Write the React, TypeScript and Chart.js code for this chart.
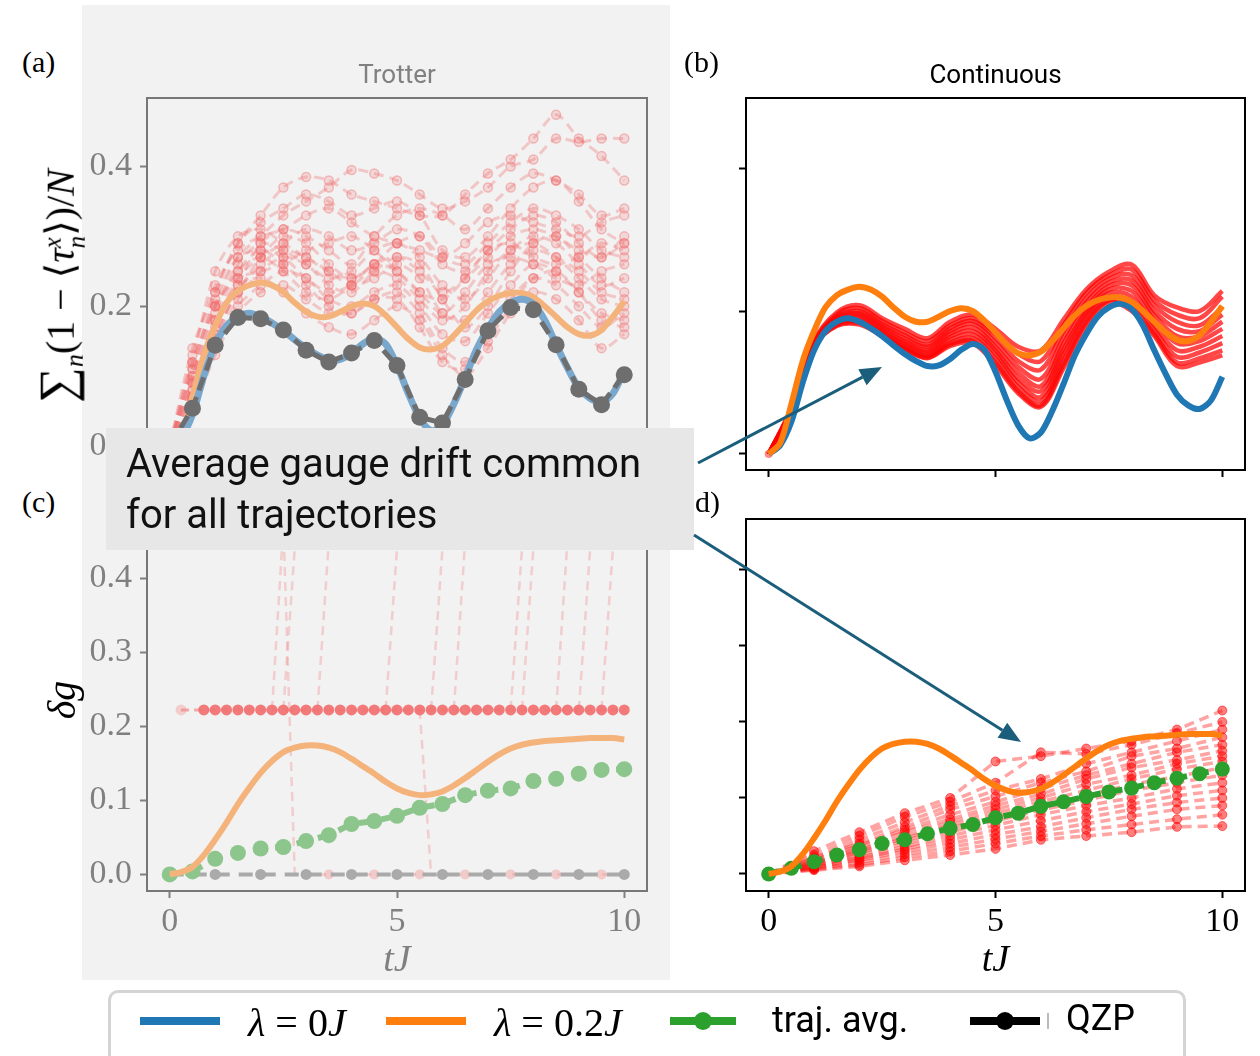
import React, { useEffect, useRef } from 'react';
import { Chart, registerables } from 'chart.js';

Chart.register(...registerables);

const SERIF = "'Liberation Serif', 'DejaVu Serif', serif";
const SANS = "Roboto, 'Noto Sans', sans-serif";

// ---------------- data ----------------
const X_TICKS = [0, 5, 10];
const Y_TICKS_AB = [0, 0.2, 0.4];
const Y_TICKS_CD = [0, 0.1, 0.2, 0.3, 0.4];

const T_QUARTER = [0, 0.25, 0.5, 0.75, 1, 1.25, 1.5, 1.75, 2, 2.25, 2.5, 2.75, 3, 3.25, 3.5, 3.75, 4, 4.25, 4.5, 4.75, 5, 5.25, 5.5, 5.75, 6, 6.25, 6.5, 6.75, 7, 7.25, 7.5, 7.75, 8, 8.25, 8.5, 8.75, 9, 9.25, 9.5, 9.75, 10];
const T_HALF = [0, 0.5, 1, 1.5, 2, 2.5, 3, 3.5, 4, 4.5, 5, 5.5, 6, 6.5, 7, 7.5, 8, 8.5, 9, 9.5, 10];
const T_UNIT = [0, 1, 2, 3, 4, 5, 6, 7, 8, 9, 10];

// lambda = 0J (panels a, b)
const BLUE_AB = [0, 0.012, 0.045, 0.1, 0.145, 0.172, 0.185, 0.19, 0.185, 0.176, 0.165, 0.152, 0.14, 0.13, 0.123, 0.124, 0.133, 0.146, 0.154, 0.146, 0.115, 0.075, 0.04, 0.022, 0.03, 0.06, 0.098, 0.138, 0.168, 0.192, 0.205, 0.21, 0.203, 0.18, 0.145, 0.112, 0.083, 0.068, 0.063, 0.075, 0.108];
// lambda = 0.2J (panels a, b)
const ORANGE_AB = [0, 0.015, 0.07, 0.13, 0.172, 0.205, 0.222, 0.23, 0.234, 0.23, 0.22, 0.205, 0.192, 0.185, 0.185, 0.192, 0.2, 0.204, 0.2, 0.187, 0.17, 0.153, 0.141, 0.138, 0.143, 0.158, 0.176, 0.194, 0.207, 0.215, 0.219, 0.219, 0.213, 0.2, 0.185, 0.17, 0.16, 0.158, 0.166, 0.185, 0.207];
// lambda = 0.2J (panels c, d)
const ORANGE_CD = [0, 0.003, 0.01, 0.026, 0.047, 0.07, 0.095, 0.117, 0.137, 0.153, 0.165, 0.171, 0.174, 0.174, 0.171, 0.165, 0.156, 0.146, 0.136, 0.125, 0.116, 0.11, 0.107, 0.108, 0.112, 0.12, 0.13, 0.141, 0.152, 0.162, 0.17, 0.175, 0.178, 0.18, 0.181, 0.182, 0.183, 0.184, 0.184, 0.184, 0.182];
// QZP (panel a)
const QZP_A = [0, 0.054, 0.144, 0.184, 0.182, 0.166, 0.137, 0.12, 0.133, 0.151, 0.115, 0.041, 0.033, 0.095, 0.165, 0.198, 0.195, 0.145, 0.081, 0.059, 0.102];
// QZP (panel c)
const QZP_C = [0, 0, 0, 0, 0, 0, 0, 0, 0, 0, 0];
// trajectory averages
const GREEN_C = [0, 0.004, 0.021, 0.029, 0.035, 0.037, 0.045, 0.053, 0.068, 0.072, 0.079, 0.09, 0.095, 0.107, 0.113, 0.116, 0.126, 0.129, 0.136, 0.141, 0.142];
const GREEN_D = [0, 0.0075, 0.016, 0.025, 0.032, 0.04, 0.045, 0.053, 0.06, 0.065, 0.074, 0.08, 0.089, 0.095, 0.102, 0.108, 0.113, 0.12, 0.126, 0.132, 0.138];

// Trotter trajectories (panel a), t = 0..10 step 0.5
const TRAJ_A = [
  [0, 0.14, 0.22, 0.29, 0.33, 0.37, 0.385, 0.38, 0.36, 0.35, 0.34, 0.33, 0.33, 0.36, 0.39, 0.41, 0.44, 0.474, 0.44, 0.415, 0.38],
  [0, 0.10, 0.20, 0.27, 0.30, 0.33, 0.35, 0.37, 0.395, 0.39, 0.38, 0.36, 0.34, 0.35, 0.37, 0.40, 0.41, 0.44, 0.435, 0.44, 0.44],
  [0, 0.07, 0.15, 0.23, 0.29, 0.31, 0.30, 0.28, 0.26, 0.30, 0.33, 0.34, 0.33, 0.31, 0.34, 0.37, 0.39, 0.38, 0.36, 0.33, 0.34],
  [0, 0.12, 0.25, 0.30, 0.31, 0.29, 0.27, 0.25, 0.24, 0.26, 0.27, 0.25, 0.22, 0.24, 0.27, 0.30, 0.31, 0.30, 0.28, 0.27, 0.29],
  [0, 0.09, 0.19, 0.26, 0.29, 0.28, 0.26, 0.24, 0.25, 0.28, 0.29, 0.27, 0.23, 0.21, 0.24, 0.28, 0.30, 0.29, 0.26, 0.23, 0.24],
  [0, 0.06, 0.16, 0.22, 0.26, 0.28, 0.27, 0.25, 0.23, 0.24, 0.26, 0.24, 0.19, 0.18, 0.22, 0.26, 0.28, 0.27, 0.25, 0.22, 0.21],
  [0, 0.11, 0.21, 0.27, 0.28, 0.27, 0.24, 0.22, 0.23, 0.25, 0.24, 0.21, 0.18, 0.20, 0.25, 0.28, 0.29, 0.27, 0.24, 0.21, 0.20],
  [0, 0.08, 0.17, 0.24, 0.27, 0.29, 0.31, 0.30, 0.28, 0.29, 0.31, 0.30, 0.26, 0.25, 0.28, 0.31, 0.33, 0.32, 0.29, 0.27, 0.30],
  [0, 0.05, 0.14, 0.20, 0.23, 0.25, 0.24, 0.21, 0.20, 0.22, 0.23, 0.20, 0.16, 0.15, 0.19, 0.23, 0.26, 0.25, 0.22, 0.19, 0.18],
  [0, 0.13, 0.23, 0.28, 0.30, 0.31, 0.33, 0.34, 0.32, 0.30, 0.29, 0.28, 0.27, 0.29, 0.32, 0.33, 0.32, 0.31, 0.30, 0.32, 0.33],
  [0, 0.07, 0.18, 0.25, 0.28, 0.26, 0.23, 0.20, 0.19, 0.21, 0.22, 0.19, 0.14, 0.12, 0.16, 0.21, 0.24, 0.23, 0.20, 0.17, 0.19],
  [0, 0.10, 0.20, 0.24, 0.25, 0.26, 0.28, 0.29, 0.30, 0.28, 0.25, 0.22, 0.21, 0.24, 0.28, 0.29, 0.27, 0.26, 0.27, 0.29, 0.28],
  [0, 0.06, 0.15, 0.21, 0.25, 0.27, 0.26, 0.23, 0.22, 0.25, 0.27, 0.26, 0.21, 0.17, 0.20, 0.25, 0.29, 0.30, 0.27, 0.24, 0.22],
  [0, 0.09, 0.18, 0.23, 0.24, 0.22, 0.19, 0.17, 0.16, 0.18, 0.20, 0.18, 0.13, 0.10, 0.14, 0.19, 0.22, 0.21, 0.18, 0.14, 0.16],
  [0, 0.11, 0.22, 0.29, 0.32, 0.34, 0.36, 0.35, 0.33, 0.34, 0.35, 0.33, 0.28, 0.27, 0.30, 0.34, 0.37, 0.38, 0.35, 0.31, 0.29],
  [0, 0.08, 0.16, 0.22, 0.27, 0.30, 0.29, 0.26, 0.24, 0.26, 0.29, 0.30, 0.27, 0.26, 0.29, 0.32, 0.34, 0.33, 0.31, 0.28, 0.27],
  [0, 0.12, 0.20, 0.25, 0.27, 0.25, 0.22, 0.21, 0.23, 0.26, 0.25, 0.22, 0.19, 0.22, 0.26, 0.27, 0.26, 0.24, 0.23, 0.25, 0.26],
  [0, 0.05, 0.13, 0.19, 0.22, 0.23, 0.21, 0.19, 0.19, 0.21, 0.21, 0.17, 0.12, 0.11, 0.15, 0.20, 0.24, 0.25, 0.22, 0.18, 0.17],
];

// Continuous trajectories (panel b), t = 0..10 step 0.5
const TRAJ_B = [
  [0, 0.065, 0.158, 0.198, 0.208, 0.19, 0.175, 0.162, 0.185, 0.195, 0.175, 0.15, 0.145, 0.188, 0.23, 0.255, 0.265, 0.222, 0.205, 0.2, 0.228],
  [0, 0.063, 0.156, 0.195, 0.204, 0.186, 0.17, 0.158, 0.18, 0.19, 0.168, 0.14, 0.13, 0.18, 0.225, 0.25, 0.258, 0.215, 0.195, 0.19, 0.22],
  [0, 0.062, 0.155, 0.192, 0.2, 0.182, 0.166, 0.153, 0.176, 0.186, 0.162, 0.13, 0.118, 0.172, 0.218, 0.245, 0.25, 0.208, 0.185, 0.18, 0.205],
  [0, 0.061, 0.154, 0.19, 0.197, 0.179, 0.162, 0.15, 0.172, 0.182, 0.156, 0.122, 0.105, 0.163, 0.212, 0.24, 0.243, 0.2, 0.175, 0.172, 0.195],
  [0, 0.06, 0.153, 0.188, 0.194, 0.176, 0.158, 0.146, 0.168, 0.177, 0.15, 0.114, 0.095, 0.155, 0.205, 0.235, 0.236, 0.194, 0.165, 0.165, 0.185],
  [0, 0.06, 0.152, 0.186, 0.191, 0.173, 0.155, 0.143, 0.164, 0.172, 0.145, 0.106, 0.088, 0.147, 0.2, 0.23, 0.228, 0.187, 0.155, 0.158, 0.175],
  [0, 0.06, 0.151, 0.184, 0.188, 0.17, 0.152, 0.14, 0.16, 0.167, 0.14, 0.1, 0.08, 0.14, 0.195, 0.225, 0.22, 0.18, 0.145, 0.15, 0.165],
  [0, 0.059, 0.15, 0.182, 0.185, 0.168, 0.149, 0.137, 0.156, 0.162, 0.134, 0.094, 0.074, 0.132, 0.19, 0.22, 0.212, 0.174, 0.136, 0.142, 0.155],
  [0, 0.058, 0.15, 0.18, 0.183, 0.166, 0.147, 0.135, 0.153, 0.158, 0.128, 0.088, 0.068, 0.125, 0.184, 0.215, 0.205, 0.168, 0.128, 0.134, 0.145],
  [0, 0.058, 0.15, 0.179, 0.181, 0.165, 0.146, 0.134, 0.151, 0.155, 0.124, 0.085, 0.066, 0.12, 0.18, 0.212, 0.2, 0.165, 0.123, 0.128, 0.138],
];

// Continuous gauge drift trajectories (panel d), t = 0..10 step 1
const TRAJ_D = [
  [0, 0.03, 0.055, 0.08, 0.1, 0.148, 0.155, 0.165, 0.175, 0.19, 0.215],
  [0, 0.025, 0.05, 0.075, 0.095, 0.12, 0.16, 0.158, 0.17, 0.185, 0.2],
  [0, 0.02, 0.045, 0.068, 0.09, 0.11, 0.125, 0.145, 0.16, 0.175, 0.19],
  [0, 0.022, 0.04, 0.062, 0.085, 0.102, 0.12, 0.135, 0.155, 0.165, 0.18],
  [0, 0.018, 0.038, 0.058, 0.078, 0.095, 0.112, 0.13, 0.145, 0.16, 0.17],
  [0, 0.015, 0.035, 0.055, 0.072, 0.09, 0.105, 0.125, 0.14, 0.15, 0.162],
  [0, 0.016, 0.032, 0.05, 0.068, 0.085, 0.1, 0.118, 0.13, 0.145, 0.155],
  [0, 0.012, 0.03, 0.047, 0.064, 0.08, 0.095, 0.11, 0.125, 0.138, 0.148],
  [0, 0.014, 0.028, 0.044, 0.06, 0.075, 0.09, 0.103, 0.118, 0.128, 0.14],
  [0, 0.01, 0.025, 0.04, 0.055, 0.07, 0.084, 0.097, 0.11, 0.12, 0.13],
  [0, 0.012, 0.022, 0.036, 0.05, 0.064, 0.078, 0.09, 0.1, 0.112, 0.12],
  [0, 0.008, 0.02, 0.033, 0.045, 0.058, 0.07, 0.082, 0.092, 0.103, 0.11],
  [0, 0.009, 0.018, 0.03, 0.04, 0.052, 0.062, 0.074, 0.085, 0.094, 0.1],
  [0, 0.007, 0.015, 0.026, 0.035, 0.046, 0.056, 0.066, 0.076, 0.085, 0.09],
  [0, 0.006, 0.012, 0.022, 0.03, 0.04, 0.05, 0.058, 0.065, 0.072, 0.078],
  [0, 0.005, 0.01, 0.018, 0.025, 0.033, 0.045, 0.05, 0.055, 0.062, 0.063],
];

// Trotter gauge drift trajectories (panel c)
const C_FLAT_T = [0.25, 0.75, 1, 1.25, 1.5, 1.75, 2, 2.25, 2.5, 2.75, 3, 3.25, 3.5, 3.75, 4, 4.25, 4.5, 4.75, 5, 5.25, 5.5, 5.75, 6, 6.25, 6.5, 6.75, 7, 7.25, 7.5, 7.75, 8, 8.25, 8.5, 8.75, 9, 9.25, 9.5, 9.75, 10];
const C_FLAT_V = [0.222, 0.222, 0.222, 0.222, 0.222, 0.222, 0.222, 0.222, 0.222, 0.222, 0.222, 0.222, 0.222, 0.222, 0.222, 0.222, 0.222, 0.222, 0.222, 0.222, 0.222, 0.222, 0.222, 0.222, 0.222, 0.222, 0.222, 0.222, 0.222, 0.222, 0.222, 0.222, 0.222, 0.222, 0.222, 0.222, 0.222, 0.222, 0.222];
const C_JUMP_START_T = [2.5, 3.25, 4.75, 5.75, 6.25, 7.5, 7.75, 8.5, 9, 9.5];
const C_JUMP_START_V = [0.222, 0.222, 0.222, 0.222, 0.222, 0.222, 0.222, 0.222, 0.222, 0.222];
const C_JUMP_END_T = [2.75, 3.5, 5, 6, 6.5, 7.75, 8, 8.75, 9.25, 9.75];
const C_JUMP_END_V = [0.44, 0.45, 0.44, 0.44, 0.45, 0.44, 0.44, 0.45, 0.44, 0.44];
const C_SPIKE_T = [2.25, 2.5, 2.75, 3, 3.5, 4, 4.5, 5, 5.5, 6, 6.5, 7, 7.5, 8, 8.5, 9, 9.5, 10];
const C_SPIKE_V = [0.222, 0.47, 0, 0, 0, 0, 0, 0, 0, 0, 0, 0, 0, 0, 0, 0, 0, 0];
const C_DROP_T = [5.5, 5.75];
const C_DROP_V = [0.222, 0];
const C_ZERO_T = [3.5, 4.5, 5.5, 6.5, 7.5, 8.5, 9.5];
const C_ZERO_V = [0, 0, 0, 0, 0, 0, 0];

// ---------------- helpers ----------------
const pts = (ts: number[], vs: number[]) => ts.map((t, i) => ({ x: t, y: vs[i] }));

const framePlugin = {
  id: 'frame',
  afterDraw(chart: any, _args: any, opts: any) {
    const { ctx, chartArea } = chart;
    ctx.save();
    ctx.strokeStyle = opts.color || '#000';
    ctx.lineWidth = opts.width || 2;
    ctx.strokeRect(chartArea.left, chartArea.top, chartArea.right - chartArea.left, chartArea.bottom - chartArea.top);
    ctx.restore();
  },
};

function xAxis(color: string, labels: boolean, height: number, withTitle: boolean) {
  return {
    type: 'linear',
    min: -0.5,
    max: 10.5,
    afterBuildTicks: (s: any) => { s.ticks = X_TICKS.map((v) => ({ value: v })); },
    afterFit: (s: any) => { s.height = height; },
    grid: { display: true, drawOnChartArea: false, drawTicks: true, tickLength: 7, tickWidth: 2, tickColor: color, color },
    border: { display: false },
    ticks: { display: labels, color, font: { family: SERIF, size: 34, lineHeight: 1.2 }, padding: 4, maxRotation: 0, autoSkip: false },
    title: withTitle
      ? { display: true, text: 'tJ', color, font: { family: SERIF, size: 38, style: 'italic', lineHeight: 1 }, padding: { top: 0, bottom: 10 } }
      : { display: false },
  };
}

function yAxis(color: string, labels: boolean, width: number, min: number, max: number, ticks: number[]) {
  return {
    type: 'linear',
    min,
    max,
    afterBuildTicks: (s: any) => { s.ticks = ticks.map((v) => ({ value: v })); },
    afterFit: (s: any) => { s.width = width; },
    grid: { display: true, drawOnChartArea: false, drawTicks: true, tickLength: 7, tickWidth: 2, tickColor: color, color },
    border: { display: false },
    ticks: { display: labels, color, font: { family: SERIF, size: 34 }, padding: 8, callback: (v: any) => Number(v).toFixed(1) },
  };
}

function baseOptions(opts: any) {
  return {
    responsive: false,
    animation: false,
    events: [],
    layout: { padding: opts.padding },
    plugins: {
      legend: { display: false },
      tooltip: { enabled: false },
      title: opts.title
        ? { display: true, fullSize: false, text: opts.title, color: opts.titleColor, font: { family: SANS, size: 26, weight: 'normal', lineHeight: 1 }, padding: { top: 13, bottom: 9 } }
        : { display: false },
      frame: { color: opts.frameColor, width: 2 },
    },
    scales: { x: opts.x, y: opts.y },
  };
}

const LEFT_GRAY = '#808080';

function buildA() {
  const datasets: any[] = [
    { data: pts(T_HALF, QZP_A), borderColor: '#6e6e6e', borderWidth: 5, borderDash: [14, 7], pointRadius: 8.5, pointBackgroundColor: '#6e6e6e', pointBorderWidth: 0, tension: 0, order: 0 },
    { data: pts(T_QUARTER, BLUE_AB), borderColor: '#7aa8cd', borderWidth: 7, pointRadius: 0, tension: 0.3, order: 1 },
    { data: pts(T_QUARTER, ORANGE_AB), borderColor: '#f5b37c', borderWidth: 6, pointRadius: 0, tension: 0.3, order: 2 },
    ...TRAJ_A.map((v) => ({
      data: pts(T_HALF, v), borderColor: 'rgba(240,110,110,0.33)', borderWidth: 3, borderDash: [10, 6], pointRadius: 4.5,
      pointBackgroundColor: 'rgba(240,110,110,0.2)', pointBorderColor: 'rgba(240,110,110,0.42)', pointBorderWidth: 1.5, tension: 0.3, order: 3,
    })),
  ];
  return {
    type: 'line',
    data: { datasets },
    options: baseOptions({
      padding: { left: 0, right: 13, top: 0, bottom: 0 }, title: 'Trotter', titleColor: LEFT_GRAY, frameColor: '#777777',
      x: xAxis(LEFT_GRAY, false, 20, false), y: yAxis(LEFT_GRAY, true, 67, -0.0224, 0.498, Y_TICKS_AB),
    }),
    plugins: [framePlugin],
  };
}

function buildB() {
  const datasets: any[] = [
    { data: pts(T_QUARTER, ORANGE_AB), borderColor: '#ff7f0e', borderWidth: 6, pointRadius: 0, tension: 0.3, order: 0 },
    { data: pts(T_QUARTER, BLUE_AB), borderColor: '#1f77b4', borderWidth: 6, pointRadius: 0, tension: 0.3, order: 1 },
    ...TRAJ_B.map((v) => ({ data: pts(T_HALF, v), borderColor: 'rgba(255,0,0,0.72)', borderWidth: 4.5, pointRadius: 0, tension: 0.35, order: 2 })),
    { data: pts([0], [0]), borderColor: 'rgba(255,0,0,0.6)', pointRadius: 4, pointBackgroundColor: 'rgba(255,60,60,0.6)', pointBorderWidth: 0, order: 3 },
  ];
  return {
    type: 'line',
    data: { datasets },
    options: baseOptions({
      padding: { left: 0, right: 10, top: 0, bottom: 0 }, title: 'Continuous', titleColor: '#000', frameColor: '#000',
      x: xAxis('#000', false, 20, false), y: yAxis('#000', false, 66, -0.0224, 0.498, Y_TICKS_AB),
    }),
    plugins: [framePlugin],
  };
}

function buildC() {
  const pink = 'rgba(240,128,128,0.32)';
  const datasets: any[] = [
    { data: pts(T_QUARTER, ORANGE_CD), borderColor: '#f5b37c', borderWidth: 6, pointRadius: 0, tension: 0.3, order: 0 },
    { data: pts(T_HALF, GREEN_C), borderColor: '#8cc68c', borderWidth: 6, borderDash: [12, 10], pointRadius: 8, pointBackgroundColor: '#8cc68c', pointBorderWidth: 0, tension: 0, order: 1 },
    { data: pts(T_UNIT, QZP_C), borderColor: '#aaaaaa', borderWidth: 4, borderDash: [14, 9], pointRadius: 5.5, pointBackgroundColor: '#aaaaaa', pointBorderWidth: 0, tension: 0, order: 2 },
    { data: pts(C_ZERO_T, C_ZERO_V), showLine: false, pointRadius: 5, pointBackgroundColor: 'rgba(240,128,128,0.35)', pointBorderWidth: 0, order: 3 },
    {
      data: pts(C_FLAT_T, C_FLAT_V), borderColor: 'rgba(242,120,120,0.6)', borderWidth: 3, borderDash: [8, 5], pointRadius: 5.5,
      pointBackgroundColor: C_FLAT_T.map((_, i) => (i === 0 ? 'rgba(242,120,120,0.3)' : 'rgba(242,115,115,0.95)')), pointBorderWidth: 0, tension: 0, order: 4,
    },
    ...C_JUMP_START_T.map((t, i) => ({
      data: pts([t, C_JUMP_END_T[i]], [C_JUMP_START_V[i], C_JUMP_END_V[i]]), borderColor: pink, borderWidth: 2.5, borderDash: [9, 6], pointRadius: 0, tension: 0, order: 5,
    })),
    { data: pts(C_SPIKE_T, C_SPIKE_V), borderColor: pink, borderWidth: 2.5, borderDash: [9, 6], pointRadius: 0, tension: 0, order: 5 },
    { data: pts(C_DROP_T, C_DROP_V), borderColor: pink, borderWidth: 2.5, borderDash: [9, 6], pointRadius: 0, tension: 0, order: 5 },
  ];
  return {
    type: 'line',
    data: { datasets },
    options: baseOptions({
      padding: { left: 0, right: 13, top: 19, bottom: 0 }, title: null, frameColor: '#777777',
      x: xAxis(LEFT_GRAY, true, 99, true), y: yAxis(LEFT_GRAY, true, 67, -0.0224, 0.467, Y_TICKS_CD),
    }),
    plugins: [framePlugin],
  };
}

function buildD() {
  const datasets: any[] = [
    { data: pts(T_QUARTER, ORANGE_CD), borderColor: '#ff7f0e', borderWidth: 6, pointRadius: 0, tension: 0.3, order: 0 },
    { data: pts(T_HALF, GREEN_D), borderColor: '#2ca02c', borderWidth: 6, borderDash: [12, 10], pointRadius: 7.5, pointBackgroundColor: '#2ca02c', pointBorderWidth: 0, tension: 0, order: 1 },
    ...TRAJ_D.map((v) => ({
      data: pts(T_UNIT, v), borderColor: 'rgba(255,0,0,0.36)', borderWidth: 3.5, borderDash: [10, 6], pointRadius: 4.5,
      pointBackgroundColor: 'rgba(255,0,0,0.5)', pointBorderColor: 'rgba(255,0,0,0.55)', pointBorderWidth: 1, tension: 0, order: 2,
    })),
  ];
  return {
    type: 'line',
    data: { datasets },
    options: baseOptions({
      padding: { left: 0, right: 10, top: 19, bottom: 0 }, title: null, frameColor: '#000',
      x: xAxis('#000', true, 99, true), y: yAxis('#000', false, 66, -0.0224, 0.467, Y_TICKS_CD),
    }),
    plugins: [framePlugin],
  };
}

function Panel({ left, top, width, height, build }: { left: number; top: number; width: number; height: number; build: () => any }) {
  const ref = useRef<HTMLCanvasElement>(null);
  useEffect(() => {
    const chart = new Chart(ref.current as HTMLCanvasElement, build());
    return () => chart.destroy();
  }, []);
  return <canvas ref={ref} width={width} height={height} style={{ position: 'absolute', left, top, width, height }} />;
}

function arrowHead(x1: number, y1: number, x2: number, y2: number, len: number, half: number) {
  const dx = x2 - x1, dy = y2 - y1;
  const L = Math.hypot(dx, dy);
  const ux = dx / L, uy = dy / L;
  const bx = x2 - ux * len, by = y2 - uy * len;
  const px = -uy, py = ux;
  return {
    base: [bx, by],
    points: `${x2},${y2} ${bx + px * half},${by + py * half} ${bx - px * half},${by - py * half}`,
  };
}

const ARROW_COLOR = '#1b5e7b';

function Arrow({ x1, y1, x2, y2 }: { x1: number; y1: number; x2: number; y2: number }) {
  const h = arrowHead(x1, y1, x2, y2, 22, 9);
  return (
    <g>
      <line x1={x1} y1={y1} x2={h.base[0]} y2={h.base[1]} stroke={ARROW_COLOR} strokeWidth={3} />
      <polygon points={h.points} fill={ARROW_COLOR} />
    </g>
  );
}

const abs = (left: number, top: number, extra: React.CSSProperties = {}): React.CSSProperties => ({ position: 'absolute', left, top, ...extra });

export default function App() {
  const labelStyle: React.CSSProperties = { fontFamily: SERIF, fontSize: 30, color: '#000', lineHeight: 1 };
  return (
    <div style={{ position: 'absolute', left: 0, top: 0, width: 1260, height: 1056, overflow: 'hidden', background: '#fff' }}>
      <div style={abs(82, 5, { width: 588, height: 975, background: '#f2f2f2' })} />

      <Panel left={80} top={50} width={580} height={440} build={buildA} />
      <Panel left={680} top={50} width={575} height={440} build={buildB} />
      <Panel left={80} top={500} width={580} height={490} build={buildC} />
      <Panel left={680} top={500} width={575} height={490} build={buildD} />

      <div style={abs(22, 47, labelStyle)}>(a)</div>
      <div style={abs(684, 47, labelStyle)}>(b)</div>
      <div style={abs(22, 487, labelStyle)}>(c)</div>
      <div style={abs(685, 487, labelStyle)}>(d)</div>

      <div style={abs(60, 286, { transform: 'translate(-50%, -50%) rotate(-90deg)', whiteSpace: 'nowrap', fontFamily: SERIF, fontSize: 40, color: '#000', lineHeight: 1 })}>
        <span style={{ fontSize: 50 }}>∑</span>
        <sub style={{ fontStyle: 'italic', fontSize: 26 }}>n</sub>
        (1 − ⟨<i>τ</i>
        <span style={{ display: 'inline-flex', flexDirection: 'column', fontSize: 25, lineHeight: 0.95, verticalAlign: 'middle', fontStyle: 'italic' }}>
          <span>x</span>
          <span>n</span>
        </span>
        ⟩)/<i>N</i>
      </div>
      <div style={abs(62, 700, { transform: 'translate(-50%, -50%) rotate(-90deg)', whiteSpace: 'nowrap', fontFamily: SERIF, fontSize: 40, fontStyle: 'italic', color: '#000', lineHeight: 1 })}>
        δg
      </div>

      <div style={abs(106, 428, { width: 588, height: 122, background: '#e7e7e7' })}>
        <div style={{ position: 'absolute', left: 20, top: 10, fontFamily: SANS, fontSize: 40, lineHeight: '51px', color: '#111', whiteSpace: 'nowrap' }}>
          Average gauge drift common
          <br />
          for all trajectories
        </div>
      </div>

      <svg width={1260} height={1056} style={{ position: 'absolute', left: 0, top: 0, pointerEvents: 'none' }}>
        <Arrow x1={698} y1={463} x2={882} y2={367} />
        <Arrow x1={694} y1={535} x2={1021} y2={742} />
      </svg>

      <div style={abs(108, 990, { width: 1072, height: 80, border: '3px solid #d4d4d4', borderRadius: 10, background: '#fff' })} />
      <div style={abs(140, 1017, { width: 80, height: 8, background: '#1f77b4' })} />
      <div style={abs(248, 1003, { fontFamily: SERIF, fontSize: 40, lineHeight: 1, whiteSpace: 'nowrap' })}>
        <i>λ</i> = 0<i>J</i>
      </div>
      <div style={abs(386, 1017, { width: 80, height: 8, background: '#ff7f0e' })} />
      <div style={abs(494, 1003, { fontFamily: SERIF, fontSize: 40, lineHeight: 1, whiteSpace: 'nowrap' })}>
        <i>λ</i> = 0.2<i>J</i>
      </div>
      <div style={abs(670, 1017, { width: 66, height: 8, background: '#2ca02c' })} />
      <div style={abs(694, 1012, { width: 18, height: 18, borderRadius: 9, background: '#2ca02c' })} />
      <div style={abs(772, 1002, { fontFamily: SANS, fontSize: 36, lineHeight: 1, whiteSpace: 'nowrap' })}>traj. avg.</div>
      <div style={abs(970, 1017, { width: 70, height: 8, background: '#000' })} />
      <div style={abs(996, 1012, { width: 18, height: 18, borderRadius: 9, background: '#000' })} />
      <div style={abs(1047, 1013, { width: 2, height: 16, background: '#bbb' })} />
      <div style={abs(1066, 1000, { fontFamily: SANS, fontSize: 36, lineHeight: 1, whiteSpace: 'nowrap' })}>QZP</div>
    </div>
  );
}
